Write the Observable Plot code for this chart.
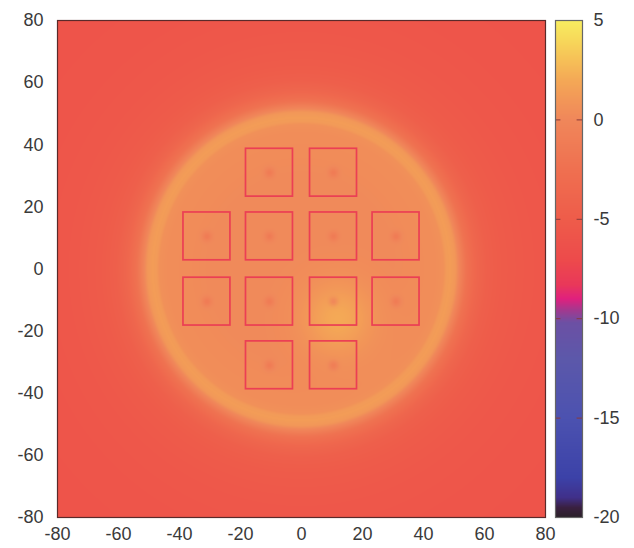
<!DOCTYPE html>
<html><head><meta charset="utf-8">
<script src="https://cdn.jsdelivr.net/npm/d3@7"></script>
<script src="https://cdn.jsdelivr.net/npm/@observablehq/plot@0.6"></script>
<style>
body{margin:0;background:#fff}
#wrap{position:relative;width:634px;height:548px}
#wrap > svg{position:absolute;top:0}
</style>
</head><body><div id="wrap"></div>
<script>
// axis tick labels
const xTicks = [-80, -60, -40, -20, 0, 20, 40, 60, 80];
const yTicks = [-80, -60, -40, -20, 0, 20, 40, 60, 80];
const cbTicks = [5, 0, -5, -10, -15, -20];
const cbInnerTicks = [0, -5, -10, -15];

// colour palette
const colorStops = [-20, -19.5, -19, -18, -15, -12, -10.2, -9.6, -9, -8.3, -7, -5, -2.5, 0, 1, 2, 3, 4, 5];
const colorHex = ["#2a2028", "#3a2040", "#40308a", "#3c42a8", "#4c52b0", "#5c58aa", "#6c50a4", "#a03a90", "#e0207e", "#e9385a", "#ed4b4b", "#ee5c4a", "#ef7050", "#f0875a", "#f29758", "#f4a956", "#f6c057", "#f7d85a", "#f8ee60"];

// radial profile of the map (distance from centre -> value)
const profileR = [0, 30, 44, 46.5, 47.5, 49, 50.5, 52, 54, 57, 61, 66, 75, 90, 114];
const profileV = [0.2, 0.2, 0.4, 0.6, 1.2, 1.3, 1.0, -0.4, -2.2, -3.6, -4.6, -5.1, -5.5, -5.8, -6.0];

// square pads: centres, half side, outline value, centre-dot depth
const padCX = [-10.5, 10.5, -31, -10.5, 10.5, 31, -31, -10.5, 10.5, 31, -10.5, 10.5];
const padCY = [31, 31, 10.5, 10.5, 10.5, 10.5, -10.5, -10.5, -10.5, -10.5, -31, -31];
const padHalf = [7.7];
const padEdgeValue = [-7.8];
const padDotDepth = [1.5];

// warm spot inside the disc
const hotSpot = {x: 12, y: -16, amp: 1.8, sigma: 8};

const pads = padCX.map((x, i) => ({x, y: padCY[i]}));

function radial(r) {
  for (let i = 1; i < profileR.length; i++) {
    if (r <= profileR[i]) {
      const t = (r - profileR[i - 1]) / (profileR[i] - profileR[i - 1]);
      return profileV[i - 1] + t * (profileV[i] - profileV[i - 1]);
    }
  }
  return profileV[profileV.length - 1];
}
function field(x, y) {
  const r = Math.hypot(x, y);
  let v = radial(r);
  if (r < 47) {
    const d2 = (x - hotSpot.x) ** 2 + (y - hotSpot.y) ** 2;
    v += hotSpot.amp * Math.exp(-d2 / (2 * hotSpot.sigma ** 2));
  }
  for (const p of pads) {
    const d2 = (x - p.x) ** 2 + (y - p.y) ** 2;
    v -= padDotDepth[0] * Math.exp(-d2 / 2);
  }
  return v;
}

const color = {type: "linear", domain: colorStops, range: colorHex, interpolate: "rgb", clamp: true};
const style = {fontFamily: "Liberation Sans, Arial, sans-serif", fontSize: "18px", color: "#3a3a3a", background: "transparent"};
const fmt = d => String(d);

const main = Plot.plot({
  width: 634, height: 548,
  marginTop: 20, marginBottom: 31, marginLeft: 57, marginRight: 89,
  style,
  x: {domain: [-80, 80]},
  y: {domain: [-80, 80]},
  color,
  marks: [
    Plot.raster({x1: -80, x2: 80, y1: -80, y2: 80, fill: (x, y) => field(x, y)}),
    Plot.rect(pads, {
      x1: d => d.x - padHalf[0], x2: d => d.x + padHalf[0],
      y1: d => d.y - padHalf[0], y2: d => d.y + padHalf[0],
      stroke: () => padEdgeValue[0], strokeWidth: 1.7, fill: "none"
    }),
    Plot.frame({stroke: "#5a2a2a", strokeWidth: 1.2}),
    Plot.axisX(xTicks, {tickSize: 0, tickPadding: 10, label: null, tickFormat: fmt}),
    Plot.axisY(yTicks, {tickSize: 0, tickPadding: 14, label: null, tickFormat: fmt})
  ]
});

const bar = Plot.plot({
  width: 84, height: 548,
  marginTop: 20, marginBottom: 31, marginLeft: 5, marginRight: 52,
  style,
  x: {domain: [0, 1], axis: null},
  y: {domain: [-20, 5]},
  color,
  marks: [
    Plot.raster({x1: 0, x2: 1, y1: -20, y2: 5, fill: (x, y) => y}),
    Plot.ruleY(cbInnerTicks, {x1: 0, x2: 0.2, stroke: "#8a3a3a", strokeWidth: 1}),
    Plot.ruleY(cbInnerTicks, {x1: 0.8, x2: 1, stroke: "#8a3a3a", strokeWidth: 1}),
    Plot.frame({stroke: "#666", strokeWidth: 1.2}),
    Plot.axisY(cbTicks, {anchor: "right", tickSize: 0, tickPadding: 11, label: null, tickFormat: fmt})
  ]
});

const wrap = document.getElementById("wrap");
main.style.left = "0px";
bar.style.left = "550px";
wrap.appendChild(main);
wrap.appendChild(bar);
</script>
</body></html>
